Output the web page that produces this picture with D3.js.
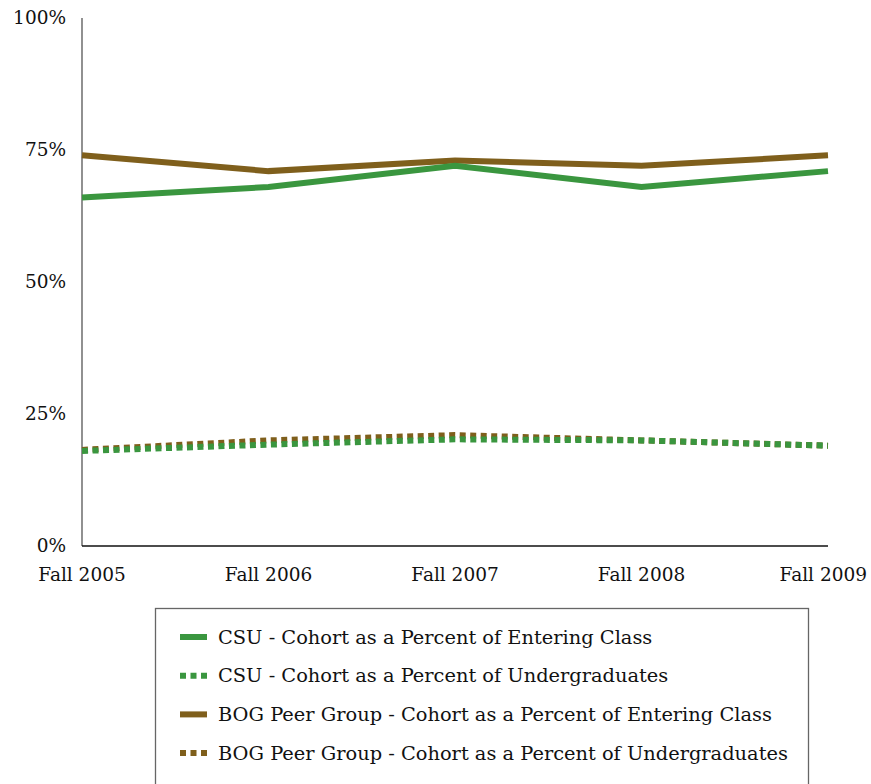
<!DOCTYPE html>
<html>
<head>
<meta charset="utf-8">
<script src="https://cdn.jsdelivr.net/npm/d3@7"></script>
<style>
  body { margin: 0; background: #fff; }
  text { font-family: "DejaVu Serif", serif; fill: #111; }
</style>
</head>
<body>
<div id="chart"></div>
<script>
// category labels along the bottom
var years = ["Fall 2005", "Fall 2006", "Fall 2007", "Fall 2008", "Fall 2009"]
var yTicks = [0, 25, 50, 75, 100]

// percent values
var csuEntering = [66, 68, 72, 68, 71]
var csuUndergrad = [18, 19.2, 20.2, 20, 19]
var bogEntering = [74, 71, 73, 72, 74]
var bogUndergrad = [18.2, 20, 21, 20, 19]

var seriesNames = [
    "CSU - Cohort as a Percent of Entering Class",
    "CSU - Cohort as a Percent of Undergraduates",
    "BOG Peer Group - Cohort as a Percent of Entering Class",
    "BOG Peer Group - Cohort as a Percent of Undergraduates"
]

var green = "#3a963f"
var brown = "#7f5f1c"

var series = [
    {name: seriesNames[0], values: csuEntering, color: green, dotted: false},
    {name: seriesNames[1], values: csuUndergrad, color: green, dotted: true},
    {name: seriesNames[2], values: bogEntering, color: brown, dotted: false},
    {name: seriesNames[3], values: bogUndergrad, color: brown, dotted: true}
]
// draw order: dotted brown under dotted green, solid brown then green
var drawOrder = [3, 1, 2, 0]

var width = 871, height = 784
var margin = {top: 18, right: 43, bottom: 238, left: 82}

var svg = d3.select("#chart").append("svg")
    .attr("width", width)
    .attr("height", height)

var x = d3.scalePoint()
    .domain(years)
    .range([margin.left, width - margin.right])

var y = d3.scaleLinear()
    .domain([0, 100])
    .range([height - margin.bottom, margin.top])

// y axis line and labels
svg.append("line")
    .attr("x1", margin.left).attr("x2", margin.left)
    .attr("y1", y(100)).attr("y2", y(0))
    .attr("stroke", "#555").attr("stroke-width", 1.3)

svg.selectAll(".ylab").data(yTicks).enter().append("text")
    .attr("class", "ylab")
    .attr("x", 66)
    .attr("y", function(d){ return y(d) })
    .attr("text-anchor", "end")
    .attr("dy", "0.3em")
    .style("font-size", "18.5px")
    .text(function(d){ return d + "%" })

// x axis
svg.append("line")
    .attr("x1", margin.left).attr("x2", width - margin.right)
    .attr("y1", y(0)).attr("y2", y(0))
    .attr("stroke", "#111").attr("stroke-width", 1.3)

// last label is pushed in so it stays on the page
svg.selectAll(".xlab").data(years).enter().append("text")
    .attr("class", "xlab")
    .attr("x", function(d, i){ return i == years.length - 1 ? width - 4 : x(d) })
    .attr("y", y(0) + 35)
    .attr("text-anchor", function(d, i){ return i == years.length - 1 ? "end" : "middle" })
    .style("font-size", "18.5px")
    .text(function(d){ return d })

var line = d3.line()
    .x(function(d, i){ return x(years[i]) })
    .y(function(d){ return y(d) })

drawOrder.forEach(function(k){
    var s = series[k]
    svg.append("path")
        .datum(s.values)
        .attr("d", line)
        .attr("fill", "none")
        .attr("stroke", s.color)
        .attr("stroke-width", 6)
        .attr("stroke-dasharray", s.dotted ? "6,4.5" : null)
})

// legend box
svg.append("rect")
    .attr("x", 155.5).attr("y", 608.5)
    .attr("width", 653).attr("height", 200)
    .attr("fill", "none")
    .attr("stroke", "#666").attr("stroke-width", 1.3)

series.forEach(function(s, i){
    var ly = 637 + 38.7 * i
    svg.append("line")
        .attr("x1", 180).attr("x2", 207)
        .attr("y1", ly).attr("y2", ly)
        .attr("stroke", s.color)
        .attr("stroke-width", 6)
        .attr("stroke-dasharray", s.dotted ? "6,4.5" : null)
    svg.append("text")
        .attr("x", 218)
        .attr("y", ly)
        .attr("dy", "0.35em")
        .style("font-size", "19.4px")
        .text(s.name)
})
</script>
</body>
</html>
